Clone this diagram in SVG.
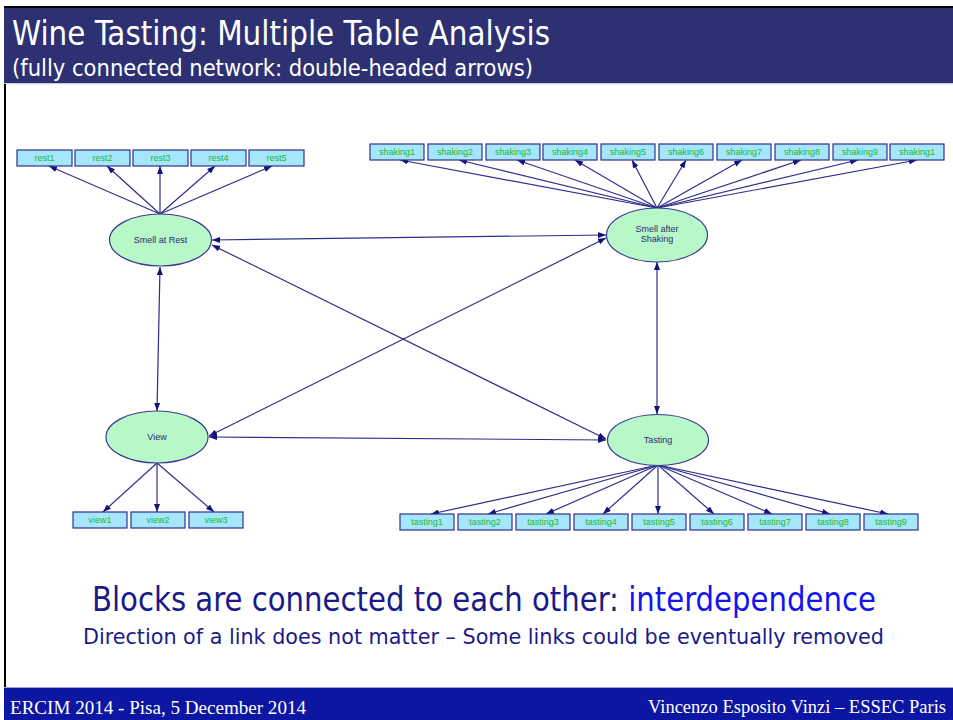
<svg xmlns="http://www.w3.org/2000/svg" width="953" height="720" viewBox="0 0 953 720">
  <defs>
    <style>
      .head { fill: #2d3172; }
      .foot { fill: #0c16a2; }
      .ttl { font-family: "DejaVu Sans Condensed", "DejaVu Sans", sans-serif; fill: #ffffff; }
      .msg { font-family: "DejaVu Sans Condensed", "DejaVu Sans", sans-serif; fill: #1a1a8a; }
      .hl { fill: #1414f0; }
      .ft { font-family: "Liberation Serif", serif; font-size: 18px; fill: #ffffff; }
      .mv rect { fill: #a6e6fb; stroke: #2f2f8f; stroke-width: 1.2; }
      .mv text { font-family: "Liberation Sans", Arial, sans-serif; font-size: 9px; fill: #22b82a; text-anchor: middle; }
      .lv ellipse { fill: #b8f8c8; stroke: #3a3a90; stroke-width: 1.2; }
      .lv text { font-family: "Liberation Sans", Arial, sans-serif; font-size: 9px; fill: #2a2a70; text-anchor: middle; }
      .edge { stroke: #2e2e8c; stroke-width: 1.2; fill: none; }
      .one { marker-end: url(#tip); }
      .two { marker-start: url(#tip); marker-end: url(#tip); }
    </style>
    <marker id="tip" viewBox="0 0 8 6" refX="8" refY="3" markerWidth="8" markerHeight="6" markerUnits="userSpaceOnUse" orient="auto-start-reverse">
      <path d="M0,0 L8,3 L0,6 z" fill="#12127a"/>
    </marker>
  </defs>

  <!-- page background and frame -->
  <rect x="0" y="0" width="953" height="720" fill="#ffffff"/>
  <rect x="4" y="6" width="949" height="2.5" fill="#000000"/>
  <rect class="head" x="4" y="8" width="949" height="75"/>
  <rect x="4" y="83" width="949" height="1.2" fill="#c8cce0"/>
  <rect x="4" y="84" width="2" height="603" fill="#000000"/>
  <rect x="4" y="687" width="949" height="1" fill="#9aa0d8"/>
  <rect class="foot" x="4" y="688" width="949" height="32"/>

  <!-- header -->
  <text class="ttl" x="12" y="45" font-size="34" textLength="538" lengthAdjust="spacingAndGlyphs">Wine Tasting: Multiple Table Analysis</text>
  <text class="ttl" x="12" y="76" font-size="23" textLength="521" lengthAdjust="spacingAndGlyphs">(fully connected network: double-headed arrows)</text>

  <!-- connectors -->
  <g id="connectors">
    <!-- Smell at Rest to its variables -->
    <line class="edge one" x1="160" y1="214" x2="49" y2="166"/>
    <line class="edge one" x1="160" y1="214" x2="107" y2="166"/>
    <line class="edge one" x1="160" y1="214" x2="160" y2="166"/>
    <line class="edge one" x1="160" y1="214" x2="215" y2="166"/>
    <line class="edge one" x1="160" y1="214" x2="272" y2="166"/>
    <!-- Smell after Shaking to its variables -->
    <line class="edge one" x1="657" y1="208" x2="400" y2="160"/>
    <line class="edge one" x1="657" y1="208" x2="459" y2="160"/>
    <line class="edge one" x1="657" y1="208" x2="517" y2="160"/>
    <line class="edge one" x1="657" y1="208" x2="575" y2="160"/>
    <line class="edge one" x1="657" y1="208" x2="632" y2="160"/>
    <line class="edge one" x1="657" y1="208" x2="686" y2="160"/>
    <line class="edge one" x1="657" y1="208" x2="742" y2="160"/>
    <line class="edge one" x1="657" y1="208" x2="801" y2="160"/>
    <line class="edge one" x1="657" y1="208" x2="858" y2="160"/>
    <line class="edge one" x1="657" y1="208" x2="917" y2="160"/>
    <!-- View to its variables -->
    <line class="edge one" x1="157" y1="463" x2="103" y2="512"/>
    <line class="edge one" x1="157" y1="463" x2="157" y2="512"/>
    <line class="edge one" x1="157" y1="463" x2="214" y2="512"/>
    <!-- Tasting to its variables -->
    <line class="edge one" x1="658" y1="465" x2="431" y2="514"/>
    <line class="edge one" x1="658" y1="465" x2="488" y2="514"/>
    <line class="edge one" x1="658" y1="465" x2="546" y2="514"/>
    <line class="edge one" x1="658" y1="465" x2="603" y2="514"/>
    <line class="edge one" x1="658" y1="465" x2="658" y2="514"/>
    <line class="edge one" x1="658" y1="465" x2="714" y2="514"/>
    <line class="edge one" x1="658" y1="465" x2="772" y2="514"/>
    <line class="edge one" x1="658" y1="465" x2="830" y2="514"/>
    <line class="edge one" x1="658" y1="465" x2="888" y2="514"/>
    <!-- links between blocks -->
    <line class="edge two" x1="212" y1="240" x2="606" y2="235"/>
    <line class="edge two" x1="212" y1="245" x2="606" y2="439"/>
    <line class="edge two" x1="160" y1="267" x2="157" y2="411"/>
    <line class="edge two" x1="606" y1="238" x2="209" y2="436"/>
    <line class="edge two" x1="209" y1="437" x2="606" y2="440"/>
    <line class="edge two" x1="657" y1="262" x2="657" y2="414"/>
  </g>

  <!-- latent blocks -->
  <g id="smell-rest" class="lv">
    <ellipse cx="160.5" cy="240" rx="51" ry="26"/>
    <text x="160.5" y="243">Smell at Rest</text>
  </g>
  <g id="smell-shaking" class="lv">
    <ellipse cx="657" cy="235" rx="50.5" ry="27"/>
    <text x="657" y="232">Smell after</text>
    <text x="657" y="242">Shaking</text>
  </g>
  <g id="view" class="lv">
    <ellipse cx="157" cy="437" rx="51" ry="26"/>
    <text x="157" y="440">View</text>
  </g>
  <g id="tasting" class="lv">
    <ellipse cx="658" cy="440" rx="50.5" ry="25.5"/>
    <text x="658" y="443">Tasting</text>
  </g>

  <!-- manifest variables: rest -->
  <g id="rest1" class="mv"><rect x="17" y="150" width="55" height="16"/><text x="44.5" y="161">rest1</text></g>
  <g id="rest2" class="mv"><rect x="75" y="150" width="55" height="16"/><text x="102.5" y="161">rest2</text></g>
  <g id="rest3" class="mv"><rect x="133" y="150" width="55" height="16"/><text x="160.5" y="161">rest3</text></g>
  <g id="rest4" class="mv"><rect x="191" y="150" width="55" height="16"/><text x="218.5" y="161">rest4</text></g>
  <g id="rest5" class="mv"><rect x="249" y="150" width="55" height="16"/><text x="276.5" y="161">rest5</text></g>

  <!-- manifest variables: shaking -->
  <g id="shaking1" class="mv"><rect x="370" y="144" width="54" height="16"/><text x="397" y="155">shaking1</text></g>
  <g id="shaking2" class="mv"><rect x="428" y="144" width="54" height="16"/><text x="455" y="155">shaking2</text></g>
  <g id="shaking3" class="mv"><rect x="486" y="144" width="54" height="16"/><text x="513" y="155">shaking3</text></g>
  <g id="shaking4" class="mv"><rect x="543" y="144" width="54" height="16"/><text x="570" y="155">shaking4</text></g>
  <g id="shaking5" class="mv"><rect x="601" y="144" width="54" height="16"/><text x="628" y="155">shaking5</text></g>
  <g id="shaking6" class="mv"><rect x="659" y="144" width="54" height="16"/><text x="686" y="155">shaking6</text></g>
  <g id="shaking7" class="mv"><rect x="717" y="144" width="54" height="16"/><text x="744" y="155">shaking7</text></g>
  <g id="shaking8" class="mv"><rect x="775" y="144" width="54" height="16"/><text x="802" y="155">shaking8</text></g>
  <g id="shaking9" class="mv"><rect x="833" y="144" width="54" height="16"/><text x="860" y="155">shaking9</text></g>
  <g id="shaking10" class="mv"><rect x="890" y="144" width="54" height="16"/><text x="917" y="155">shaking1</text></g>

  <!-- manifest variables: view -->
  <g id="view1" class="mv"><rect x="73" y="512" width="54" height="16"/><text x="100" y="523">view1</text></g>
  <g id="view2" class="mv"><rect x="131" y="512" width="54" height="16"/><text x="158" y="523">view2</text></g>
  <g id="view3" class="mv"><rect x="189" y="512" width="54" height="16"/><text x="216" y="523">view3</text></g>

  <!-- manifest variables: tasting -->
  <g id="tasting1" class="mv"><rect x="400" y="514" width="54" height="16"/><text x="427" y="525">tasting1</text></g>
  <g id="tasting2" class="mv"><rect x="458" y="514" width="54" height="16"/><text x="485" y="525">tasting2</text></g>
  <g id="tasting3" class="mv"><rect x="516" y="514" width="54" height="16"/><text x="543" y="525">tasting3</text></g>
  <g id="tasting4" class="mv"><rect x="574" y="514" width="54" height="16"/><text x="601" y="525">tasting4</text></g>
  <g id="tasting5" class="mv"><rect x="632" y="514" width="54" height="16"/><text x="659" y="525">tasting5</text></g>
  <g id="tasting6" class="mv"><rect x="690" y="514" width="54" height="16"/><text x="717" y="525">tasting6</text></g>
  <g id="tasting7" class="mv"><rect x="748" y="514" width="54" height="16"/><text x="775" y="525">tasting7</text></g>
  <g id="tasting8" class="mv"><rect x="806" y="514" width="54" height="16"/><text x="833" y="525">tasting8</text></g>
  <g id="tasting9" class="mv"><rect x="864" y="514" width="54" height="16"/><text x="891" y="525">tasting9</text></g>

  <!-- message -->
  <text class="msg" x="92" y="611" font-size="33" textLength="784" lengthAdjust="spacingAndGlyphs">Blocks are connected to each other: <tspan class="hl">interdependence</tspan></text>
  <text class="msg" x="83" y="644" font-size="22" textLength="801" lengthAdjust="spacingAndGlyphs">Direction of a link does not matter – Some links could be eventually removed</text>

  <!-- footer -->
  <text class="ft" x="10" y="714" textLength="296" lengthAdjust="spacingAndGlyphs">ERCIM 2014 - Pisa, 5 December 2014</text>
  <text class="ft" x="648" y="713" textLength="298" lengthAdjust="spacingAndGlyphs">Vincenzo Esposito Vinzi – ESSEC Paris</text>
</svg>
